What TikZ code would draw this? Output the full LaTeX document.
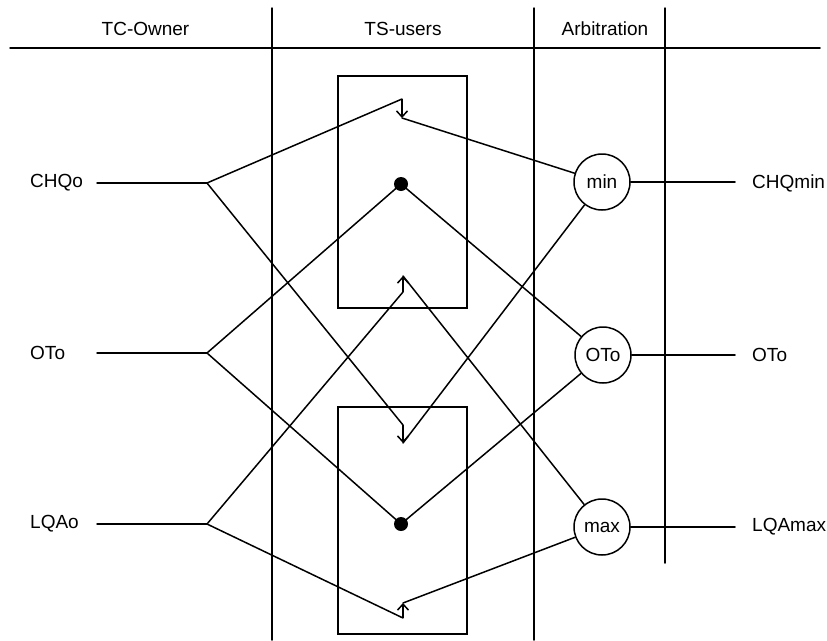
\documentclass[tikz,border=0pt]{standalone}
\usepackage{fontspec}
\setmainfont{Liberation Sans}
\usetikzlibrary{arrows.meta}
\begin{document}
\begin{tikzpicture}[x=1pt,y=-1pt,
  ln/.style={line width=1.5pt,line cap=round},
  lbl/.style={font=\fontsize{19}{21}\selectfont,inner sep=0pt},
  op/.style={circle,draw,line width=1.5pt,minimum size=56pt,inner sep=0pt,font=\fontsize{19}{21}\selectfont},
  dotn/.style={circle,fill=black,minimum size=14pt,inner sep=0pt},
  arr/.style={line width=1.5pt,-{Straight Barb[length=6pt,width=11pt,line width=1.5pt]}},
  box/.style={draw,line width=1.5pt}]
\useasboundingbox (0,0) rectangle (827,640);
% frame lines
\coordinate (h1) at (10,48); \coordinate (h2) at (820,48);
\draw[ln] (h1) -- (h2);
\coordinate (v1a) at (272,8); \coordinate (v1b) at (272,640);
\coordinate (v2a) at (534,8); \coordinate (v2b) at (534,640);
\coordinate (v3a) at (665,8); \coordinate (v3b) at (665,563);
\draw[ln] (v1a) -- (v1b);
\draw[ln] (v2a) -- (v2b);
\draw[ln] (v3a) -- (v3b);
% headers
\node[lbl] (hdr1) at (145.5,29) {TC-Owner};
\node[lbl] (hdr2) at (403,29) {TS-users};
\node[lbl] (hdr3) at (605,29) {Arbitration};
% boxes
\draw[box] (338,76) rectangle (467,308);
\draw[box] (338,407) rectangle (467,634);
% left labels
\node[lbl,anchor=west] (chqo) at (30,183) {CHQo};
\node[lbl,anchor=west] (oto) at (30,353) {OTo};
\node[lbl,anchor=west] (lqao) at (30,524) {LQAo};
\coordinate (s1) at (97,183); \coordinate (s2) at (97,353); \coordinate (s3) at (97,524);
\coordinate (f1) at (207,183); \coordinate (f2) at (207,353); \coordinate (f3) at (207,524);
\draw[ln] (s1) -- (f1);
\draw[ln] (s2) -- (f2);
\draw[ln] (s3) -- (f3);
% operators
\node[op] (min) at (602,182) {min};
\node[op] (oto2) at (603,355) {OTo};
\node[op] (max) at (602,527) {max};
% right labels
\node[lbl,anchor=west] (chqmin) at (752,183) {CHQmin};
\node[lbl,anchor=west] (otor) at (752,355) {OTo};
\node[lbl,anchor=west] (lqamax) at (752,527) {LQAmax};
\coordinate (r1) at (735,182); \coordinate (r2) at (735,355); \coordinate (r3) at (735,527);
\draw[ln] (min) -- (r1);
\draw[ln] (oto2) -- (r2);
\draw[ln] (max) -- (r3);
% chevron points
\coordinate (at) at (402,99);  \coordinate (ah) at (402,118);
\coordinate (bt) at (403,292); \coordinate (bh) at (403,276);
\coordinate (ct) at (403,425); \coordinate (ch) at (403,443);
\coordinate (et) at (403,618); \coordinate (eh) at (403,603);
\node[dotn] (d1) at (401,184) {};
\node[dotn] (d2) at (401,524) {};
\draw[arr] (at) -- (ah);
\draw[arr] (bt) -- (bh);
\draw[arr] (ct) -- (ch);
\draw[arr] (et) -- (eh);
% connections
\draw[ln] (f1) -- (at);
\draw[ln] (ah) -- (min);
\draw[ln] (f1) -- (ct);
\draw[ln] (ch) -- (min);
\draw[ln] (f2) -- (d1.center);
\draw[ln] (d1.center) -- (oto2);
\draw[ln] (f2) -- (d2.center);
\draw[ln] (d2.center) -- (oto2);
\draw[ln] (f3) -- (bt);
\draw[ln] (bh) -- (max);
\draw[ln] (f3) -- (et);
\draw[ln] (eh) -- (max);
\end{tikzpicture}
\end{document}
